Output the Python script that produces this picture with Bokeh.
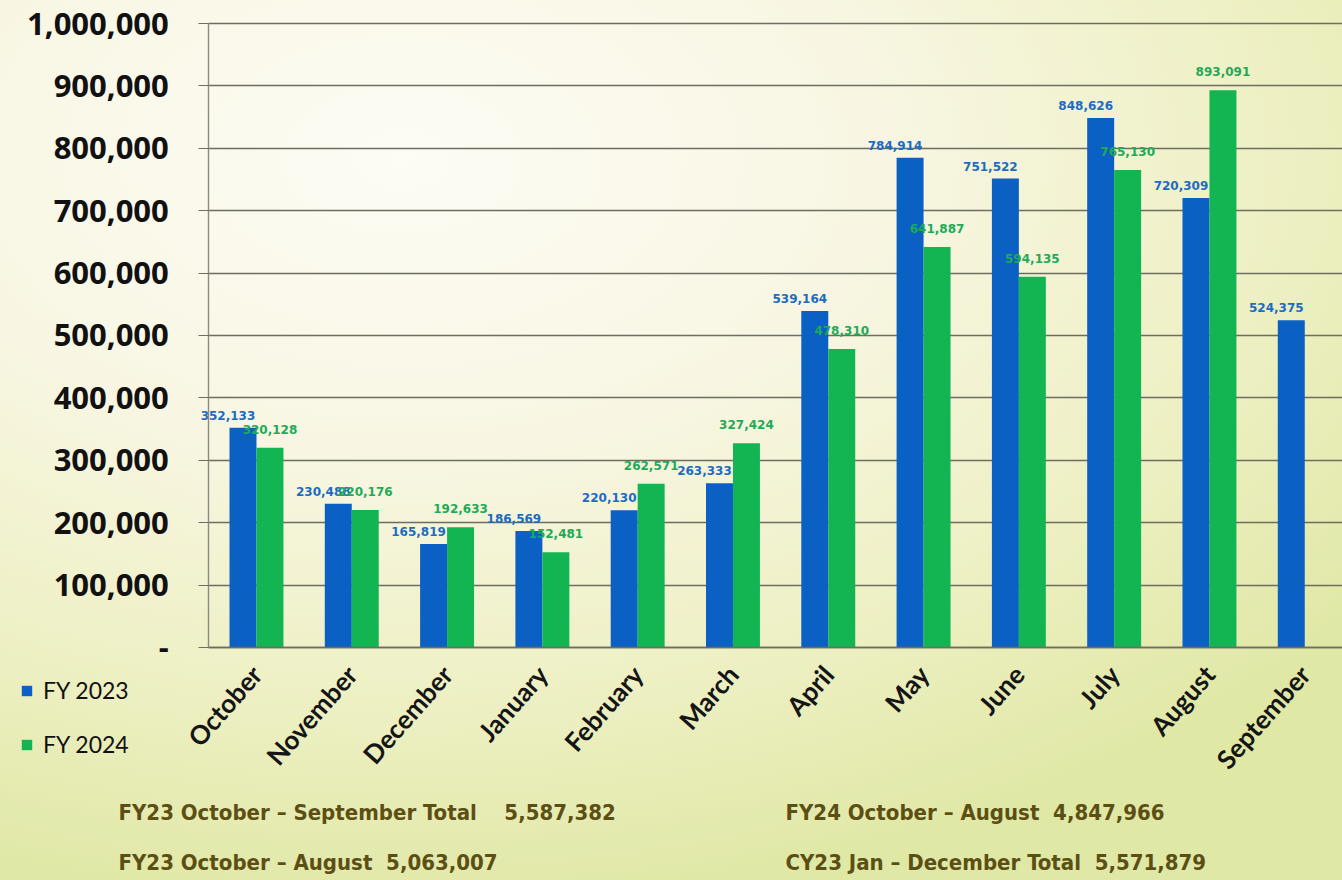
import math
from bokeh.plotting import figure
from bokeh.models import (ColumnDataSource, FixedTicker, NumeralTickFormatter, Label,
                          Legend, LegendItem, Range1d, LinearAxis, Grid)
from bokeh.core.properties import value
from bokeh.embed import file_html
from bokeh.resources import INLINE

# ---------------- data ----------------
months = ["October", "November", "December", "January", "February", "March",
          "April", "May", "June", "July", "August", "September"]
fy2023 = [352133, 230488, 165819, 186569, 220130, 263333,
          539164, 784914, 751522, 848626, 720309, 524375]
fy2024 = [320128, 220176, 192633, 152481, 262571, 327424,
          478310, 641887, 594135, 765130, 893091]
y_ticks = [0, 100000, 200000, 300000, 400000, 500000,
           600000, 700000, 800000, 900000, 1000000]
summary_texts = ["FY23 October \u2013 September Total\u00a0\u00a0\u00a0 5,587,382",
                 "FY23 October \u2013 August\u00a0 5,063,007",
                 "FY24 October \u2013 August\u00a0 4,847,966",
                 "CY23 Jan \u2013 December Total\u00a0 5,571,879"]
series_names = ["FY 2023", "FY 2024"]

# ---------------- style ----------------
BLUE = "#0b60c3"
GREEN = "#12b552"
BLUE_TXT = "#1c6cc2"
GREEN_TXT = "#1eaa58"
GRID = "#6e6d60"
BAR_W = 0.283
SHIFT = BAR_W / 2
W, H = 1342, 880
X0, X1 = -2.686, 11.396          # visible x range (category units)
Y0, Y1 = -373400, 1036860        # visible y range
X_LEFT, X_RIGHT = -0.5, X1       # extent of the plotting area

idx = list(range(len(months)))
src23 = ColumnDataSource(dict(
    x=[i - SHIFT for i in idx[:len(fy2023)]], top=fy2023,
    label=[f"{v:,}" for v in fy2023]))
src24 = ColumnDataSource(dict(
    x=[i + SHIFT for i in idx[:len(fy2024)]], top=fy2024,
    label=[f"{v:,}" for v in fy2024]))

p = figure(width=W, height=H, x_range=Range1d(X0, X1), y_range=Range1d(Y0, Y1),
           output_backend="svg", toolbar_location=None,
           x_axis_location=None, y_axis_location=None,
           min_border=0)
p.background_fill_color = None
p.border_fill_color = None
p.outline_line_color = None
p.styles = {"background": "radial-gradient(ellipse 90% 85% at 30% 18%, #fdfcf5 0%, #f8f6e2 40%, #eef0c4 72%, #e0e8a6 100%)"}
p.xgrid.visible = False
p.ygrid.visible = False

# horizontal grid lines
grid = Grid(dimension=1, ticker=FixedTicker(ticks=y_ticks),
            grid_line_color=GRID, grid_line_width=1.4)
try:
    grid.cross_bounds = (X_LEFT, X_RIGHT)
    p.add_layout(grid)
except AttributeError:
    p.segment(x0=[X_LEFT] * len(y_ticks), x1=[X_RIGHT] * len(y_ticks), y0=y_ticks, y1=y_ticks,
              line_color=GRID, line_width=1.4)

# y axis
yax = LinearAxis(fixed_location=X_LEFT, bounds=(0, y_ticks[-1]))
yax.ticker = FixedTicker(ticks=y_ticks)
yax.formatter = NumeralTickFormatter(format="0,0")
yax.major_label_overrides = {0: "-"}
yax.major_label_text_font = "Open Sans"
yax.major_label_text_font_style = "bold"
yax.major_label_text_font_size = "31px"
yax.major_label_text_color = "#111111"
yax.major_label_standoff = 30
yax.major_tick_out = 10
yax.major_tick_in = 0
yax.major_tick_line_color = GRID
yax.minor_tick_line_color = None
yax.axis_line_color = "#8a8a80"
yax.axis_line_width = 1.4
p.add_layout(yax, "left")

# x axis
xax = LinearAxis(fixed_location=0, bounds=(X_LEFT, X_RIGHT))
xax.ticker = FixedTicker(ticks=idx)
xax.major_label_overrides = {i: m for i, m in zip(idx, months)}
xax.major_label_orientation = 0.85
xax.major_label_text_font = "Lato"
xax.major_label_text_font_style = "bold"
xax.major_label_text_font_size = "26px"
xax.major_label_text_color = "#151515"
xax.major_label_standoff = 16
xax.major_tick_line_color = None
xax.minor_tick_line_color = None
xax.axis_line_color = GRID
xax.axis_line_width = 1.4
p.add_layout(xax, "below")

r23 = p.vbar(x="x", top="top", width=BAR_W, source=src23, fill_color=BLUE, line_color=None)
r24 = p.vbar(x="x", top="top", width=BAR_W, source=src24, fill_color=GREEN, line_color=None)

p.text(x="x", y="top", text="label", source=src23, x_offset=-15, y_offset=-8,
       text_align="center", text_baseline="bottom", text_font=value("DejaVu Sans"),
       text_font_style="bold", text_font_size="12px", text_color=BLUE_TXT)
p.text(x="x", y="top", text="label", source=src24, x_offset=0, y_offset=-14,
       text_align="center", text_baseline="bottom", text_font=value("DejaVu Sans"),
       text_font_style="bold", text_font_size="12px", text_color=GREEN_TXT)

legend = Legend(items=[LegendItem(label=series_names[0], renderers=[r23]),
                       LegendItem(label=series_names[1], renderers=[r24])],
                location=(20, 122))
legend.background_fill_alpha = 0
legend.border_line_color = None
legend.padding = 0
legend.margin = 0
legend.spacing = 26
legend.glyph_width = 13
legend.glyph_height = 13
legend.label_height = 26
legend.label_standoff = 10
legend.label_text_font = "Lato"
legend.label_text_font_size = "23px"
legend.label_text_color = "#111111"
p.add_layout(legend)

# summary lines (screen units from the bottom-left corner)
pos = [(118, 68), (118, 18), (785, 68), (785, 18)]
for t, (sx, sy) in zip(summary_texts, pos):
    p.add_layout(Label(x=sx, y=sy, x_units="screen", y_units="screen", text=t,
                       text_baseline="middle", text_align="left",
                       text_font="DejaVu Sans Condensed",
                       text_font_style="bold", text_font_size="22px", text_color="#5c4f14"))

open("out.html", "w").write(file_html(p, INLINE))
